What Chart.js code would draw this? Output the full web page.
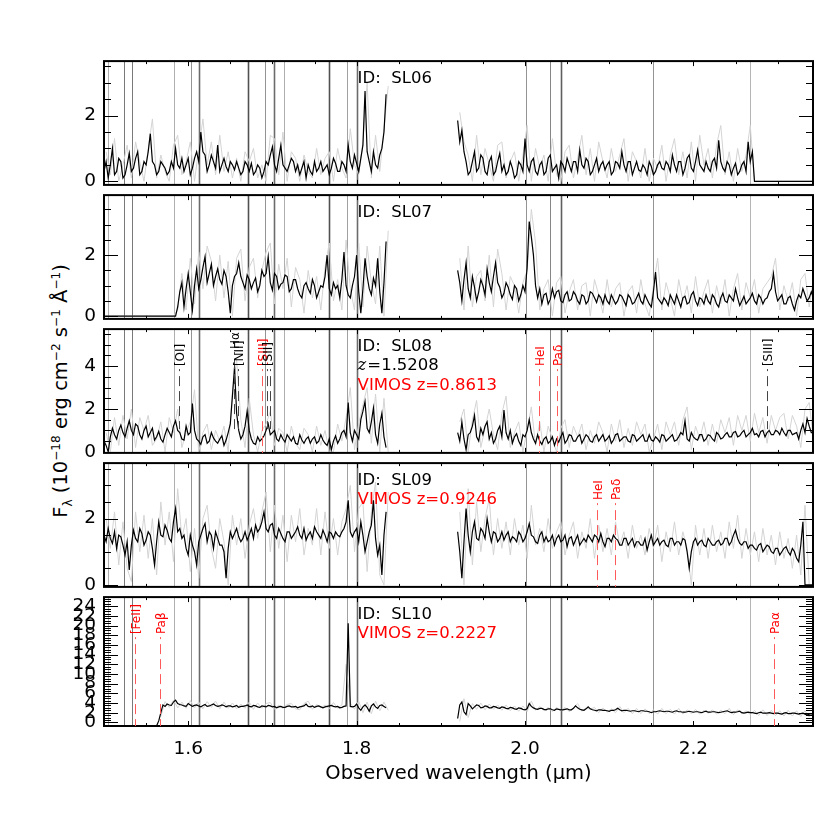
<!DOCTYPE html>
<html>
<head>
<meta charset="utf-8">
<script src="https://cdn.jsdelivr.net/npm/chart.js@4.4.0/dist/chart.umd.min.js"></script>
<style>
  html, body { margin: 0; padding: 0; background: #fff; }
  #wrap { position: relative; width: 830px; height: 830px; overflow: hidden; background: #fff; }
  #wrap canvas { position: absolute; left: 0; }
  #ytitle {
    position: absolute; left: -139px; top: 378px; width: 400px; height: 26px;
    line-height: 26px; text-align: center; white-space: nowrap;
    font-family: "DejaVu Sans"; font-size: 19.5px; color: #000;
    transform: rotate(-90deg); transform-origin: 50% 50%;
  }
  #ytitle sup, #ytitle sub { font-size: 62%; line-height: 0; }
</style>
</head>
<body>
<div id="wrap">
  <div id="ytitle">F<sub>λ</sub> (10<sup>−18</sup> erg cm<sup>−2</sup> s<sup>−1</sup> Å<sup>−1</sup>)</div>
</div>
<script>
// wavelength grids (micron): main samples and the samples half-way between them
const waveA = [1.500,1.505,1.510,1.515,1.520,1.525,1.530,1.535,1.540,1.545,
  1.550,1.555,1.560,1.565,1.570,1.575,1.580,1.585,1.590,1.595,
  1.600,1.605,1.610,1.615,1.620,1.625,1.630,1.635,1.640,1.645,
  1.650,1.655,1.660,1.665,1.670,1.675,1.680,1.685,1.690,1.695,
  1.700,1.705,1.710,1.715,1.720,1.725,1.730,1.735,1.740,1.745,
  1.750,1.755,1.760,1.765,1.770,1.775,1.780,1.785,1.790,1.795,
  1.800,1.805,1.810,1.815,1.820,1.825,1.830,1.835];
const waveMidA = [1.5025,1.5075,1.5125,1.5175,1.5225,1.5275,1.5325,1.5375,1.5425,1.5475,
  1.5525,1.5575,1.5625,1.5675,1.5725,1.5775,1.5825,1.5875,1.5925,1.5975,
  1.6025,1.6075,1.6125,1.6175,1.6225,1.6275,1.6325,1.6375,1.6425,1.6475,
  1.6525,1.6575,1.6625,1.6675,1.6725,1.6775,1.6825,1.6875,1.6925,1.6975,
  1.7025,1.7075,1.7125,1.7175,1.7225,1.7275,1.7325,1.7375,1.7425,1.7475,
  1.7525,1.7575,1.7625,1.7675,1.7725,1.7775,1.7825,1.7875,1.7925,1.7975,
  1.8025,1.8075,1.8125,1.8175,1.8225,1.8275,1.8325,1.8375];
const waveB = [1.920,1.925,1.930,1.935,1.940,1.945,1.950,1.955,1.960,1.965,
  1.970,1.975,1.980,1.985,1.990,1.995,2.000,2.005,2.010,2.015,
  2.020,2.025,2.030,2.035,2.040,2.045,2.050,2.055,2.060,2.065,
  2.070,2.075,2.080,2.085,2.090,2.095,2.100,2.105,2.110,2.115,
  2.120,2.125,2.130,2.135,2.140,2.145,2.150,2.155,2.160,2.165,
  2.170,2.175,2.180,2.185,2.190,2.195,2.200,2.205,2.210,2.215,
  2.220,2.225,2.230,2.235,2.240,2.245,2.250,2.255,2.260,2.265,
  2.270,2.275,2.280,2.285,2.290,2.295,2.300,2.305,2.310,2.315,
  2.320,2.325,2.330,2.335,2.340];
const waveMidB = [1.9225,1.9275,1.9325,1.9375,1.9425,1.9475,1.9525,1.9575,1.9625,1.9675,
  1.9725,1.9775,1.9825,1.9875,1.9925,1.9975,2.0025,2.0075,2.0125,2.0175,
  2.0225,2.0275,2.0325,2.0375,2.0425,2.0475,2.0525,2.0575,2.0625,2.0675,
  2.0725,2.0775,2.0825,2.0875,2.0925,2.0975,2.1025,2.1075,2.1125,2.1175,
  2.1225,2.1275,2.1325,2.1375,2.1425,2.1475,2.1525,2.1575,2.1625,2.1675,
  2.1725,2.1775,2.1825,2.1875,2.1925,2.1975,2.2025,2.2075,2.2125,2.2175,
  2.2225,2.2275,2.2325,2.2375,2.2425,2.2475,2.2525,2.2575,2.2625,2.2675,
  2.2725,2.2775,2.2825,2.2875,2.2925,2.2975,2.3025,2.3075,2.3125,2.3175,
  2.3225,2.3275,2.3325,2.3375,2.3425];

// smoothed flux (black) on both grids and raw flux (grey) on the half-step grid, 1e-18 erg/cm2/s/A
const sl06A = [0.3,0.1,1.0,0.3,0.6,0.2,0.85,0.4,0.9,0.3, 0.5,1.45,0.5,0.3,0.5,0.2,0.6,1.0,0.4,0.3,
  0.7,0.4,0.9,1.5,0.8,0.5,0.6,1.1,0.5,0.45, 0.6,0.35,0.4,0.3,0.5,0.55,0.3,0.4,0.3,0.5,
  1.05,0.3,1.1,0.4,0.5,0.6,0.5,0.4,0.1,0.3, 0.6,0.4,0.3,0.5,0.4,0.55,0.3,0.5,1.1,0.4,
  0.55,0.7,2.75,0.6,0.9,0.4,1.0,2.65];
const sl06MidA = [0.6,0.5,0.2,0.7,0.1,0.5,0.3,0.7,0.2,0.6, 0.9,0.6,0.2,0.6,0.4,0.3,0.4,0.5,0.7,0.5,
  0.2,0.7,0.6,0.9,0.3,0.8,0.4,0.3,0.7,0.3, 0.5,0.6,0.2,0.6,0.3,0.2,0.5,0.1,0.6,0.8,
  0.5,0.7,0.5,0.3,0.7,0.3,0.2,0.6,0.5,0.2, 0.3,0.6,0.4,0.2,0.7,0.3,0.6,0.3,0.6,0.8,
  0.3,1.1,0.9,0.3,0.5,0.8,1.5,null];
const sl06RawA = [0.9,0.2,1.3,0.0,0.5,1.1,0.1,1.2,0.6,0.0, 1.0,1.9,0.1,0.8,0.3,0.0,1.1,1.4,0.2,0.6,
  1.2,0.0,1.0,1.9,0.5,1.2,0.2,1.4,0.3,0.9, 0.1,0.7,0.0,0.9,0.6,1.0,0.1,0.5,0.0,1.4,
  1.3,0.2,1.5,0.0,0.9,0.7,0.0,0.8,0.3,0.1, 1.0,0.2,0.7,0.9,0.0,1.0,0.4,0.1,1.6,0.5,
  0.2,1.2,3.0,0.1,1.4,0.3,1.6,2.9];
const sl06B = [1.85,1.55,0.6,0.3,0.9,0.4,0.7,0.2,0.75,0.3, 0.85,0.5,0.3,0.4,0.2,0.5,1.3,0.3,0.7,0.2,
  0.6,0.3,0.8,0.4,0.1,0.5,0.7,0.3,0.6,0.95, 0.4,0.6,0.3,0.7,0.5,0.35,0.6,0.3,0.55,0.9,
  0.3,0.6,0.4,0.35,0.5,0.2,0.45,0.3,0.6,0.35, 0.5,0.8,0.3,0.6,0.4,0.8,0.3,0.95,0.4,0.6,
  0.3,0.7,1.25,0.4,0.6,0.2,0.55,0.3,0.6,1.2, 0.9,0,0,0,0,0,0,0,0,0, 0,0,0,0,0];
const sl06MidB = [1.2,0.9,0.2,0.6,0.3,0.8,0.3,0.6,0.2,0.6, 0.3,0.2,0.6,0.1,0.6,0.3,0.5,0.6,0.3,0.5,
  0.2,0.7,0.3,0.5,0.6,0.3,0.5,0.6,0.3,0.5, 0.7,0.2,0.5,0.3,0.6,0.5,0.2,0.6,0.4,0.5,
  0.6,0.2,0.6,0.3,0.4,0.6,0.2,0.5,0.4,0.6, 0.3,0.5,0.6,0.2,0.7,0.4,0.6,0.5,0.3,0.4,
  0.6,0.4,0.6,0.3,0.5,0.4,0.2,0.5,0.3,0.6, 0,0,0,0,0,0,0,0,0,0, 0,0,0,0,0];
const sl06RawB = [2.1,1.2,0.8,0.0,1.4,0.2,1.0,0.5,0.0,1.1, 1.2,0.1,0.6,0.9,0.0,0.8,1.7,0.0,1.0,0.4,
  0.8,0.0,1.3,0.2,0.0,0.9,1.1,0.1,0.7,1.4, 0.2,1.0,0.0,1.2,0.6,0.1,1.0,0.3,0.8,1.3,
  0.0,0.9,0.6,0.1,1.0,0.0,0.7,0.4,1.1,0.0, 0.8,1.3,0.2,0.9,0.1,1.2,0.0,1.4,0.5,1.0,
  0.1,1.1,1.7,0.2,0.9,0.0,1.0,0.3,0.8,1.7, 0,0,0,0,0,0,0,0,0,0, 0,0,0,0,0];

const sl07A = [0,0,0,0,0,0,0,0,0,0, 0,0,0,0,0,0,0,0,
  0.8,0.3,1.4,0.2,1.55,1.2,1.95,1.4,1.0,1.55, 1.05,1.3,0.1,1.3,1.75,1.1,1.35,0.9,1.25,1.0,
  1.3,1.95,0.85,1.3,1.05,1.35,0.8,1.2,0.9,0.6, 1.1,0.75,1.0,0.8,0.95,2.0,0.7,0.9,0.6,2.1,
  0.7,1.0,2.0,0.1,1.9,0.9,1.25,1.9,0.1,2.45];
const sl07MidA = [0,0,0,0,0,0,0,0,0,0, 0,0,0,0,0,0,0, 0.3,
  1.1,0.9,0.8,1.0,0.9,1.6,1.1,1.7,1.3,1.2, 1.5,0.8,1.0,1.4,1.3,0.9,1.2,1.1,0.8,1.5,
  1.4,1.1,1.4,0.9,1.1,1.3,0.9,1.2,0.7,1.0, 0.9,1.2,0.6,1.0,1.3,0.9,1.1,1.0,1.2,1.0,
  0.6,1.3,0.8,0.9,1.3,0.7,1.0,0.8,1.1, null];
const sl07RawA = [0,0,0,0,0,0,0,0,0,0, 0,0,0,0,0,0,0, 0.2,
  1.4,0.2,1.9,0.4,2.1,0.9,2.3,1.8,0.5,2.0, 0.6,1.8,0.0,1.9,2.2,0.5,1.6,1.9,0.6,1.5,
  2.1,2.4,0.4,1.7,0.9,1.9,0.3,1.6,1.2,0.1, 1.5,0.6,1.3,0.2,1.6,2.4,0.5,1.2,0.2,2.5,
  0.9,0.2,2.4,0.3,2.3,1.1,0.4,2.3,0.0,2.8];
const sl07B = [1.5,0.5,1.75,0.6,0.95,0.8,1.0,1.55,0.8,1.75, 0.95,0.75,0.95,0.55,0.9,0.7,0.8,3.1,2.0,0.6,
  0.4,0.75,0.55,0.6,0.85,0.45,0.8,0.55,0.7,0.4, 0.65,0.5,0.75,0.45,0.6,0.7,0.4,0.55,0.5,0.65,
  0.35,0.6,0.45,0.75,0.4,0.55,0.3,1.45,0.5,0.6, 0.35,0.55,0.7,0.3,0.65,0.45,0.8,0.35,0.55,0.7,
  0.4,0.6,0.3,0.75,0.45,0.6,0.9,0.35,0.65,0.5, 0.75,0.4,0.6,0.55,0.8,1.4,0.5,0.7,0.4,0.65,
  0.2,0.7,0.9,0.5,0.8];
const sl07MidB = [1.1,1.2,0.9,1.3,0.5,1.2,0.7,1.1,1.3,1.1, 0.6,1.1,0.7,1.0,0.5,1.0,1.6,2.6,1.0,0.9,
  0.7,0.4,0.9,0.8,0.5,0.7,0.5,0.8,0.5,0.7, 0.4,0.8,0.6,0.7,0.4,0.5,0.7,0.4,0.7,0.5,
  0.7,0.4,0.6,0.5,0.7,0.4,0.8,0.6,0.4,0.5, 0.7,0.4,0.5,0.6,0.4,0.7,0.5,0.6,0.4,0.5,
  0.7,0.4,0.6,0.5,0.7,0.5,0.6,0.5,0.4,0.6, 0.5,0.7,0.4,0.6,0.9,0.8,0.6,0.4,0.6,0.4,
  0.5,0.6,0.7,0.6,0.6];
const sl07RawB = [1.9,0.2,2.3,0.3,1.3,1.5,0.5,2.0,0.3,2.2, 1.4,0.2,1.3,1.0,0.1,1.1,1.5,3.5,2.4,0.2,
  0.9,1.2,0.0,1.1,1.3,0.1,0.8,1.2,0.2,1.0, 1.1,0.0,1.2,0.7,0.1,1.2,0.3,0.9,1.1,0.0,
  0.8,1.0,0.1,1.2,0.4,0.0,1.0,1.9,0.2,1.1, 0.6,0.0,1.2,0.5,1.0,0.1,1.3,0.3,0.8,1.2,
  0.1,1.0,0.4,1.2,0.0,0.9,1.4,0.2,1.1,0.6, 1.2,0.1,0.9,1.1,1.3,1.9,0.2,1.0,0.5,1.1,
  0.0,1.2,1.4,0.3,1.2];

const sl08A = [0.5,0.0,1.1,0.6,1.25,0.7,1.45,0.8,1.2,0.6, 1.2,0.9,0.55,0.95,0.45,1.1,0.7,1.45,0.9,0.55,
  0.8,2.25,0.6,0.35,0.8,0.5,0.65,0.4,0.75,0.55, 1.3,3.95,1.0,0.8,1.9,0.6,0.35,0.5,0.75,1.3,
  0.9,0.6,0.8,0.45,0.65,0.7,0.35,0.55,0.6,0.4, 0.7,0.5,0.55,0.3,0.1,0.75,0.6,1.0,2.3,0.5,
  0.8,1.5,2.35,0.9,2.05,0.4,1.8,0.2];
const sl08MidA = [0.3,0.7,0.8,1.0,0.9,1.1,1.0,1.3,0.8,1.0, 0.7,1.1,0.7,0.6,0.8,0.9,1.2,1.0,0.6,1.2,
  0.9,1.0,0.5,0.7,0.4,0.9,0.5,0.6,0.3,0.9, 2.6,1.8,0.6,1.2,1.0,0.4,0.7,0.6,1.0,0.8,
  1.0,0.5,0.6,0.8,0.5,0.4,0.8,0.4,0.7,0.6, 0.4,0.8,0.4,0.6,0.5,0.4,0.9,0.7,0.9,1.0,
  0.6,1.9,1.1,1.4,0.8,1.3,0.7,null];
const sl08RawA = [0.9,0.0,1.6,0.3,1.7,0.6,2.0,0.2,1.6,1.0, 1.7,0.3,0.6,1.4,0.0,1.6,0.9,2.0,0.2,0.9,
  1.4,2.9,0.0,0.9,1.3,0.1,1.0,0.5,1.2,0.0, 2.8,4.3,1.5,0.2,2.5,0.8,0.0,1.0,1.3,1.9,
  0.3,1.1,0.9,0.0,1.2,0.4,0.1,1.1,0.8,0.0, 1.2,0.3,1.0,0.0,0.0,1.3,0.5,1.6,3.0,0.1,
  1.3,2.2,3.0,0.4,2.7,0.0,2.5,0.0];
const sl08B = [0.9,1.4,0.1,0.9,1.7,0.5,0.8,1.4,0.9,0.6, 1.2,1.95,0.6,0.4,0.85,0.3,0.7,1.5,0.6,0.8,
  0.35,0.7,0.5,0.3,0.45,0.9,0.55,0.75,0.5,0.8, 0.6,0.7,0.45,0.8,0.65,0.5,0.75,0.55,0.85,0.6,
  0.7,0.45,0.75,0.6,0.8,0.5,0.55,0.7,0.45,0.75, 0.6,0.8,0.55,0.9,1.45,0.5,0.7,0.55,0.8,0.6,
  0.75,0.5,0.8,0.65,0.9,0.7,0.95,0.75,1.0,0.8, 1.1,0.85,0.95,0.7,1.0,0.8,0.95,1.1,0.75,1.0,
  0.85,0.6,1.3,1.55,0.9];
const sl08MidB = [0.5,0.6,0.8,1.2,0.7,1.1,1.2,0.6,0.4,1.0, 0.7,0.9,1.0,0.7,0.5,0.8,1.0,0.9,0.4,0.5,
  0.6,0.4,0.7,0.6,0.7,0.4,0.8,0.5,0.7,0.4, 0.8,0.5,0.7,0.5,0.8,0.6,0.4,0.8,0.5,0.7,
  0.5,0.8,0.5,0.7,0.5,0.8,0.5,0.6,0.8,0.5, 0.7,0.5,0.7,0.8,0.6,0.9,0.6,0.8,0.5,0.8,
  0.6,0.9,0.6,0.8,0.7,0.9,0.7,0.9,0.7,0.9, 0.8,0.7,1.0,0.9,0.8,1.0,0.8,0.9,1.0,0.8,
  0.9,1.0,0.9,1.2,0.9];
const sl08RawB = [1.4,2.0,0.0,1.5,2.4,0.2,1.1,2.0,0.8,0.1, 1.8,2.6,0.2,0.9,1.4,0.0,1.0,2.1,0.3,1.4,
  0.0,1.2,0.6,0.0,1.1,1.5,0.2,1.2,0.7,1.3, 0.1,1.0,0.4,1.4,0.9,0.0,1.3,0.5,1.5,0.2,
  1.1,0.3,1.4,0.8,1.3,0.0,0.6,1.3,0.1,1.4, 0.8,1.4,0.3,1.5,2.1,0.1,1.2,0.6,1.4,0.3,
  1.3,0.4,1.5,0.9,1.6,0.3,1.7,1.0,1.7,0.5, 1.8,0.9,1.6,0.4,1.7,1.0,1.6,1.8,0.6,1.7,
  1.2,0.2,2.0,2.3,0.6];

const sl09A = [1.5,1.7,1.25,1.1,1.45,0.9,0.45,1.65,1.3,1.55, 1.35,1.5,0.6,1.9,1.45,1.65,1.3,2.3,1.7,1.5,
  0.9,1.2,0.6,1.5,1.85,1.6,1.1,1.4,1.2,0.2, 1.6,1.55,1.45,1.4,1.35,1.7,1.8,1.7,2.2,1.6,
  1.85,1.4,1.55,1.3,1.6,1.5,1.75,1.4,1.35,1.6, 1.75,1.5,1.65,1.3,1.55,1.6,1.45,1.7,2.55,1.45,
  1.7,1.9,1.0,1.6,2.55,0.9,0.3,2.2];
const sl09MidA = [1.3,1.4,1.6,1.5,1.2,1.3,1.2,1.4,1.7,1.2, 1.6,1.1,1.3,1.5,1.8,1.4,1.9,1.6,1.4,1.1,
  1.5,1.0,1.3,1.7,1.3,1.5,1.6,1.2,1.0,1.1, 1.4,1.7,1.3,1.6,1.5,1.4,1.6,1.9,1.7,1.8,
  1.5,1.7,1.4,1.6,1.4,1.6,1.5,1.7,1.5,1.4, 1.6,1.4,1.5,1.6,1.4,1.5,1.6,1.9,1.6,1.6,
  1.3,1.5,1.3,1.8,1.4,1.2,1.5,null];
const sl09RawA = [2.0,1.1,2.2,0.6,1.9,0.5,0.1,2.2,1.0,2.1, 0.8,2.0,0.3,2.5,1.2,2.2,0.7,2.9,1.4,2.0,
  0.4,1.7,0.2,2.0,2.4,1.1,0.5,2.0,1.3,0.0, 2.1,1.2,2.0,0.8,1.8,2.3,1.4,2.2,2.8,1.0,
  2.4,1.1,2.1,0.7,2.1,1.3,2.3,0.9,1.7,1.2, 2.3,0.9,2.2,1.1,2.0,0.9,1.9,2.3,3.0,1.0,
  2.3,2.5,0.4,2.2,3.1,0.3,0.0,2.8];
const sl09B = [1.6,0.2,2.3,1.0,1.9,1.35,1.6,2.0,1.3,1.55, 1.4,1.35,1.6,1.45,1.3,1.5,1.4,1.85,1.45,1.25,
  1.6,1.45,1.35,1.2,1.5,1.35,1.15,1.45,1.35,1.2, 1.4,1.5,1.3,1.45,1.55,1.15,1.4,1.5,1.35,1.2,
  1.4,1.3,1.15,1.3,1.2,1.05,1.5,1.3,1.2,1.35, 1.15,1.4,1.3,1.2,1.35,0.5,1.3,1.2,1.35,1.15,
  1.3,1.2,1.35,1.25,1.4,1.3,1.65,1.25,1.3,1.1, 1.2,1.05,1.25,1.1,1.15,0.95,1.1,1.0,1.15,0.9,
  1.0,0.7,1.9,0,0];
const sl09MidB = [1.0,1.3,1.5,1.6,1.4,1.7,1.4,1.6,1.6,1.3, 1.6,1.5,1.3,1.4,1.6,1.3,1.6,1.5,1.3,1.5,
  1.3,1.3,1.5,1.4,1.3,1.5,1.4,1.2,1.5,1.3, 1.3,1.4,1.5,1.3,1.3,1.4,1.3,1.4,1.2,1.4,
  1.2,1.4,1.3,1.2,1.4,1.3,1.2,1.4,1.3,1.2, 1.4,1.2,1.3,1.4,1.0,1.0,1.4,1.3,1.2,1.4,
  1.2,1.3,1.2,1.4,1.2,1.5,1.4,1.2,1.3,1.2, 1.1,1.2,1.0,1.2,1.0,1.1,0.9,1.1,1.0,1.1,
  0.8,1.2,0,0,0];
const sl09RawB = [2.2,0.0,2.9,0.6,2.5,1.0,2.0,2.6,0.9,2.0, 1.1,1.9,0.9,2.0,1.2,1.8,0.8,2.4,1.2,1.7,
  1.0,2.0,1.1,1.6,1.9,0.9,1.5,1.9,0.8,1.6, 1.1,2.0,0.8,1.8,1.0,1.7,0.9,1.9,1.2,1.6,
  0.8,1.8,1.1,1.5,0.9,1.7,1.1,1.8,0.7,1.6, 1.0,1.9,0.9,1.6,1.1,0.0,1.8,0.9,1.7,0.8,
  1.8,1.0,1.6,0.8,1.9,1.1,2.1,0.8,1.7,0.9, 1.6,0.7,1.7,0.9,1.5,0.6,1.6,0.8,1.4,0.5,
  1.5,0.3,2.4,0,0];

const sl10A = [null,null,null,null,null,null,null,null,null,null, null,null,null,
  0.3,3.6,3.8,3.5,4.6,3.7,3.4, 3.9,3.3,3.6,3.2,3.7,3.4,3.8,3.3,3.6,3.2,
  3.4,3.3,3.1,3.3,3.6,3.2,3.4,3.1,3.3,3.5, 3.2,3.0,3.3,3.1,3.4,3.2,3.0,3.3,3.8,3.2,
  3.1,3.4,3.0,3.3,3.5,3.2,3.0,3.3,20.5,3.2, 3.8,2.5,3.6,2.3,3.8,2.9,3.6,3.0];
const sl10MidA = [null,null,null,null,null,null,null,null,null,null, null,null, -0.7,
  2.0,3.3,3.6,4.2,3.9,3.6,3.3, 3.6,3.5,3.4,3.5,3.3,3.6,3.5,3.4,3.5,3.4,
  3.2,3.5,3.3,3.4,3.3,3.5,3.2,3.4,3.2,3.4, 3.3,3.2,3.1,3.3,3.2,3.3,3.2,3.4,3.3,3.4,
  3.3,3.2,3.2,3.4,3.3,3.3,3.1,3.4,3.3,3.3, 3.0,3.2,3.1,3.4,3.2,3.5,3.3,null];
const sl10RawA = [null,null,null,null,null,null,null,null,null,null, null,null,null,
  1.2,4.3,3.1,4.6,3.0,4.2,2.9, 4.5,3.0,4.2,2.8,4.3,3.1,4.4,2.8,4.2,2.9,
  4.0,2.8,3.8,2.9,4.2,2.7,4.0,2.9,3.9,4.1, 2.7,3.6,2.9,3.7,3.9,2.8,2.6,3.9,4.4,2.7,
  3.7,3.0,3.6,2.8,4.1,2.9,3.6,12.0,4.0,2.7, 4.4,2.0,4.2,1.8,4.4,2.4,4.2,2.5];
const sl10B = [0.8,4.2,1.6,3.4,3.2,3.5,3.1,3.3,3.0,3.2, 2.9,3.1,2.8,3.0,2.7,2.9,2.6,3.9,3.0,2.7,
  2.9,2.6,2.8,2.5,2.7,2.6,2.8,2.6,3.4,2.7, 2.5,3.2,2.6,2.4,2.6,2.5,2.3,2.5,2.9,2.4,
  2.5,2.3,2.4,2.2,2.4,2.3,2.0,2.2,2.4,2.2, 2.3,2.1,2.4,2.2,2.1,2.3,2.1,2.2,2.0,2.3,
  2.1,2.2,2.0,2.2,2.4,2.0,2.1,2.3,1.9,2.1, 2.0,1.8,2.1,1.9,2.0,1.8,1.9,1.7,2.0,1.8,
  1.9,1.7,1.9,1.5,1.8];
const sl10MidB = [3.6,2.2,3.9,2.8,3.6,3.0,3.4,3.0,3.3,3.0, 3.2,2.9,3.1,2.8,3.0,2.7,2.8,3.3,2.8,2.9,
  2.7,2.8,2.6,2.8,2.6,2.7,2.6,2.9,3.0,2.6, 2.8,2.8,2.5,2.6,2.5,2.4,2.5,2.6,2.6,2.5,
  2.4,2.4,2.3,2.4,2.3,2.2,2.2,2.3,2.3,2.3, 2.2,2.3,2.2,2.1,2.2,2.2,2.2,2.1,2.2,2.1,
  2.2,2.1,2.1,2.3,2.2,2.1,2.2,2.0,2.0,2.0, 1.9,2.0,1.9,1.9,1.9,1.9,1.8,1.9,1.8,1.9,
  1.8,1.8,1.7,1.7,1.7];
const sl10RawB = [0.2,4.9,1.0,3.9,2.7,4.0,2.6,3.8,2.7,3.6, 2.5,3.6,2.4,3.4,2.3,3.4,2.2,4.4,2.5,3.3,
  2.4,3.1,2.2,3.1,2.3,3.1,2.2,3.0,3.9,2.3, 3.0,2.7,3.1,2.0,3.0,2.1,2.8,2.0,3.3,2.0,
  2.9,1.8,2.9,1.8,2.8,1.8,2.6,1.7,2.9,1.8, 2.7,1.7,2.9,1.7,2.6,1.8,2.7,1.7,2.5,1.9,
  2.6,1.7,2.5,1.8,2.9,1.6,2.6,1.8,2.4,1.6, 2.5,1.4,2.6,1.4,2.5,1.4,2.4,1.3,2.5,1.3,
  2.4,1.2,2.4,1.1,2.3];

// panels
const panelIds = ['SL06', 'SL07', 'SL08', 'SL09', 'SL10'];
const specZ = ['', '', '1.5208', '', ''];
const vimosZ = ['', '', '0.8613', '0.9246', '0.2227'];
const yMin = [-0.11, -0.09, -0.05, -0.06, -0.75];
const yMax = [3.66, 3.97, 5.73, 3.67, 25.9];

// OH sky lines (micron) and relative strength
const skyWave = [1.5053, 1.5243, 1.5331, 1.5837, 1.6032, 1.6131, 1.6705, 1.6911, 1.7013,
  1.7132, 1.7667, 1.7885, 1.8010, 2.0016, 2.0293, 2.0428, 2.1521, 2.2669];
const skyStrength = [0.3, 0.7, 0.7, 0.3, 0.5, 0.8, 1.0, 0.5, 0.8, 0.3, 1.0, 0.4, 0.8, 0.5, 0.6, 0.9, 0.5, 0.25];

// identified emission lines
const lineWave = [1.5885, 1.6544, 1.6595, 1.6880, 1.6931, 1.6968, 2.0170, 2.0380, 2.2875,
  2.0856, 2.1073, 1.5370, 1.5667, 2.2954];
const lineName = ['[OI]', 'Hα', '[NII]', '[SIII]', '[SII]', '', 'HeI', 'Paδ', '[SIII]',
  'HeI', 'Paδ', '[FeII]', 'Paβ', 'Paα'];
const linePanel = [2, 2, 2, 2, 2, 2, 2, 2, 2, 3, 3, 4, 4, 4];
const lineSystem = ['z', 'z', 'z', 'vimos', 'z', 'z', 'vimos', 'vimos', 'z', 'vimos', 'vimos', 'vimos', 'vimos', 'vimos'];

const fluxA = [sl06A, sl07A, sl08A, sl09A, sl10A];
const fluxMidA = [sl06MidA, sl07MidA, sl08MidA, sl09MidA, sl10MidA];
const fluxB = [sl06B, sl07B, sl08B, sl09B, sl10B];
const fluxMidB = [sl06MidB, sl07MidB, sl08MidB, sl09MidB, sl10MidB];
const rawA = [sl06RawA, sl07RawA, sl08RawA, sl09RawA, sl10RawA];
const rawB = [sl06RawB, sl07RawB, sl08RawB, sl09RawB, sl10RawB];

const PANEL_TOP = [56, 190, 324, 458, 592];
const PANEL_H = 134;
const PAD = 14;
const RED = '#ff0000';

function near(v, step) {
  const q = v / step;
  return Math.abs(q - Math.round(q)) < 1e-6;
}
function stepsIn(min, max, step) {
  const out = [];
  for (let n = Math.ceil(min / step - 1e-9); n * step <= max + 1e-9; n++) out.push(n * step);
  return out;
}
function toPoints(w, f) {
  return w.map((x, i) => ({x: x, y: f[i]}));
}
// merge the main samples with the half-step samples, in wavelength order
function interleave(w1, f1, w2, f2) {
  const out = [];
  w1.forEach((x, i) => {
    out.push({x: x, y: f1[i]});
    out.push({x: w2[i], y: f2[i]});
  });
  return out;
}

const framePlugin = {
  id: 'frame',
  beforeDatasetsDraw(chart) {
    const {ctx, chartArea: a, scales: {x}} = chart;
    ctx.save();
    skyWave.forEach((w, i) => {
      const px = Math.round(x.getPixelForValue(w)) + 0.5;
      const g = Math.round(215 - 135 * skyStrength[i]);
      ctx.strokeStyle = 'rgb(' + g + ',' + g + ',' + g + ')';
      ctx.lineWidth = skyStrength[i] > 0.75 ? 1.6 : 1;
      ctx.beginPath();
      ctx.moveTo(px, a.top);
      ctx.lineTo(px, a.bottom);
      ctx.stroke();
    });
    ctx.restore();
  },
  afterDraw(chart, args, opts) {
    const k = opts.panel;
    const {ctx, chartArea: a, scales: {x, y}} = chart;
    ctx.save();
    ctx.strokeStyle = '#000';
    ctx.lineWidth = 1;
    const seg = (x0, y0, x1, y1) => {
      ctx.beginPath(); ctx.moveTo(x0, y0); ctx.lineTo(x1, y1); ctx.stroke();
    };
    // inward tick marks on all four sides
    stepsIn(x.min, x.max, 0.05).forEach(v => {
      const px = Math.round(x.getPixelForValue(v)) + 0.5;
      const len = near(v, 0.2) ? 5 : 3;
      seg(px, a.top, px, a.top + len);
      seg(px, a.bottom, px, a.bottom - len);
    });
    stepsIn(y.min, y.max, 0.5).forEach(v => {
      const py = Math.round(y.getPixelForValue(v)) + 0.5;
      const len = near(v, 2) ? 14 : 7;
      seg(a.left, py, a.left + len, py);
      seg(a.right, py, a.right - len, py);
    });
    ctx.lineWidth = 2;
    ctx.strokeRect(a.left, a.top, a.right - a.left, a.bottom - a.top);

    // line identifications
    ctx.font = '12px "DejaVu Sans"';
    ctx.textAlign = 'left';
    ctx.textBaseline = 'alphabetic';
    lineWave.forEach((w, i) => {
      if (linePanel[i] !== k) return;
      const px = Math.round(x.getPixelForValue(w)) + 0.5;
      const red = lineSystem[i] === 'vimos';
      const raised = lineName[i] === 'Hα';
      const labelBottom = a.top + (raised ? 20 : 37);
      if (lineName[i]) {
        ctx.save();
        ctx.fillStyle = red ? RED : '#000';
        ctx.translate(px + 4.5, labelBottom);
        ctx.rotate(-Math.PI / 2);
        ctx.fillText(lineName[i], 0, 0);
        ctx.restore();
      }
      ctx.save();
      ctx.strokeStyle = red ? '#ff5a5a' : '#444';
      ctx.lineWidth = 1;
      ctx.setLineDash([10, 5]);
      ctx.lineDashOffset = 8;
      seg(px, labelBottom + 3, px, red ? a.bottom : a.top + 100);
      ctx.restore();
    });

    // panel annotations
    const tx = x.getPixelForValue(1.8) + 1;
    let row = a.top + 21.5;
    ctx.font = '16.5px "DejaVu Sans"';
    ctx.fillStyle = '#000';
    ctx.fillText('ID:  ' + panelIds[k], tx, row);
    if (specZ[k]) {
      row += 19.5;
      ctx.font = 'italic 16.5px "DejaVu Serif"';
      ctx.fillText('z', tx, row);
      const zw = ctx.measureText('z').width;
      ctx.font = '16.5px "DejaVu Sans"';
      ctx.fillText('=' + specZ[k], tx + zw + 1, row);
    }
    if (vimosZ[k]) {
      row += 19.5;
      ctx.font = '16.5px "DejaVu Sans"';
      ctx.fillStyle = RED;
      ctx.fillText('VIMOS z=' + vimosZ[k], tx, row);
    }
    ctx.restore();
  }
};

const wrap = document.getElementById('wrap');
const tickFont = {family: '"DejaVu Sans"', size: 18.5};

function makePanel(k) {
  const last = k === PANEL_TOP.length - 1;
  const cTop = PANEL_TOP[k] - PAD;
  const cH = last ? 830 - cTop : PANEL_H + 2 * PAD;
  const canvas = document.createElement('canvas');
  canvas.width = 830;
  canvas.height = cH;
  canvas.style.top = cTop + 'px';
  canvas.style.width = '830px';
  canvas.style.height = cH + 'px';
  wrap.appendChild(canvas);

  const gap = {x: 1.878, y: null};
  const raw = [...toPoints(waveMidA, rawA[k]), gap, ...toPoints(waveMidB, rawB[k])];
  const smooth = [...interleave(waveA, fluxA[k], waveMidA, fluxMidA[k]), gap,
    ...interleave(waveB, fluxB[k], waveMidB, fluxMidB[k])];

  const xScale = {
    type: 'linear', min: 1.5, max: 2.342, display: last,
    grid: {display: false, drawTicks: false},
    border: {display: false},
    ticks: {
      stepSize: 0.05, autoSkip: false, maxRotation: 0, padding: 12,
      font: tickFont, color: '#000',
      callback: v => near(v, 0.2) ? v.toFixed(1) : ''
    },
    title: {
      display: true, text: 'Observed wavelength (μm)', color: '#000',
      font: {family: '"DejaVu Sans"', size: 19.5}, padding: {top: 0, bottom: 44}
    }
  };
  if (last) xScale.afterFit = s => { s.height = 104; };

  new Chart(canvas, {
    type: 'line',
    data: {
      datasets: [
        {data: raw, borderColor: '#d4d4d4', borderWidth: 1, pointRadius: 0, order: 2},
        {data: smooth, borderColor: '#000', borderWidth: 1.2, pointRadius: 0, order: 1}
      ]
    },
    options: {
      responsive: false,
      animation: false,
      events: [],
      spanGaps: false,
      layout: {padding: {left: 0, right: 17, top: PAD, bottom: last ? 0 : PAD}},
      plugins: {legend: {display: false}, tooltip: {enabled: false}, frame: {panel: k}},
      scales: {
        x: xScale,
        y: {
          type: 'linear', min: yMin[k], max: yMax[k],
          grid: {display: false, drawTicks: false},
          border: {display: false},
          ticks: {
            stepSize: 0.5, autoSkip: false, includeBounds: false, padding: 8,
            font: tickFont, color: '#000',
            callback: v => near(v, 2) ? String(Math.round(v)) : ''
          },
          afterFit: s => { s.width = 104; }
        }
      }
    },
    plugins: [framePlugin]
  });
}

PANEL_TOP.forEach((t, k) => makePanel(k));
</script>
</body>
</html>
